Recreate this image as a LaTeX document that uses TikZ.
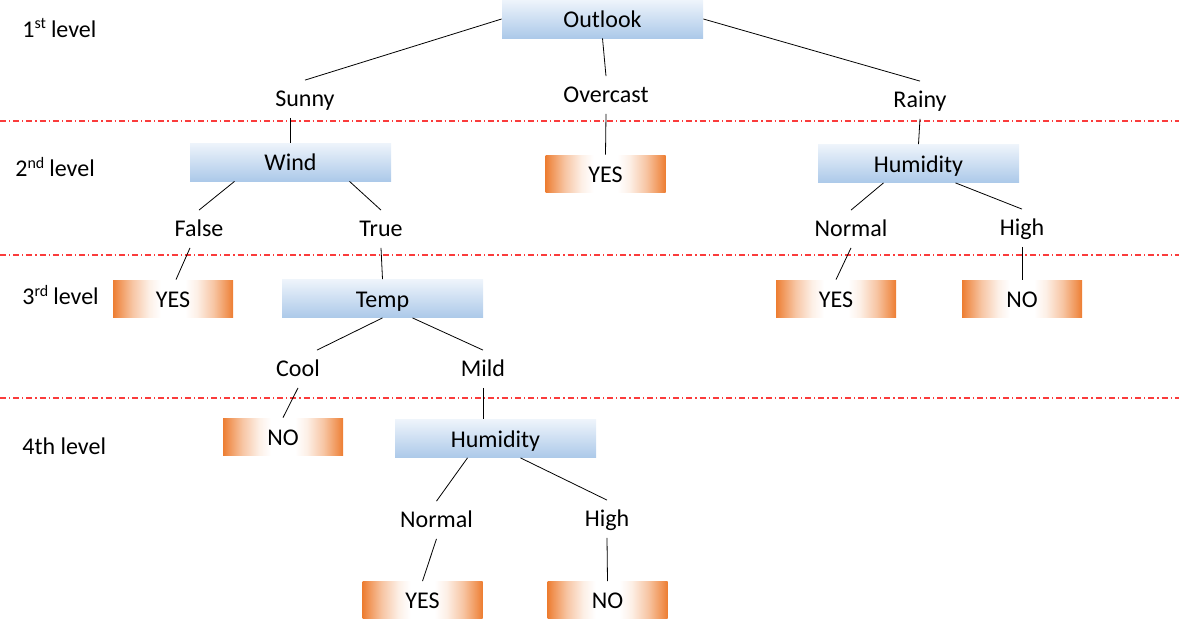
\documentclass[tikz,border=0pt]{standalone}
\usepackage{fontspec}
\setmainfont{Carlito}
\usepackage{tikz}
\usetikzlibrary{calc}

\definecolor{boxorange}{RGB}{237,125,49}
\definecolor{boxbluetop}{RGB}{238,244,251}
\definecolor{boxbluebot}{RGB}{172,201,233}
\definecolor{levelred}{RGB}{250,60,60}

\pgfdeclarehorizontalshading{yesnoshade}{100bp}{color(0bp)=(boxorange); color(25bp)=(boxorange); color(27bp)=(boxorange!85); color(33bp)=(boxorange!45); color(40bp)=(boxorange!12); color(45bp)=(white); color(55bp)=(white); color(60bp)=(boxorange!12); color(67bp)=(boxorange!45); color(73bp)=(boxorange!85); color(75bp)=(boxorange); color(100bp)=(boxorange)}

\tikzset{
  attrbox/.style={minimum width=100.5pt, minimum height=19pt, inner sep=0pt,
    top color=boxbluetop, bottom color=boxbluebot, text height=9.5pt, text depth=1pt},
  leafbox/.style={minimum width=60pt, minimum height=18.5pt, inner sep=0pt,
    shading=yesnoshade, text height=9.5pt, text depth=1pt},
  branch/.style={inner sep=4pt, text height=9pt, text depth=1.5pt},
  levellabel/.style={anchor=west, inner sep=0pt},
  levelline/.style={draw=levelred, line width=0.6pt, dash pattern=on 3pt off 1.5pt on 0.6pt off 1.5pt}
}

\begin{document}
\begin{tikzpicture}[x=0.5pt, y=-0.5pt, font=\fontsize{12}{14}\selectfont]
    \useasboundingbox (0,0) rectangle (1179,621);

    % Ebenen
    \node[levellabel] (lev1) at (22,28) {1\textsuperscript{st}\,level};
    \node[levellabel] (lev2) at (15,167) {2\textsuperscript{nd}\,level};
    \node[levellabel] (lev3) at (22,295) {3\textsuperscript{rd}\,level};
    \node[levellabel] (lev4) at (22,446) {4th level};
    \draw[levelline] (0,121) -- (1179,121);
    \draw[levelline] (0,255) -- (1179,255);
    \draw[levelline] (0,398) -- (1179,398);

    % Wurzel
    \node[attrbox] (outlook) at (602.5,19) {Outlook};
    \node[branch] (sunny) at (305,99) {Sunny};
    \node[branch] (overcast) at (606,95) {Overcast};
    \node[branch] (rainy) at (920,100) {Rainy};
    \draw (outlook.west) -- (sunny.north);
    \draw (outlook.south) -- (overcast.north);
    \draw (outlook.east) -- (rainy.north);

    % 2. Ebene
    \node[attrbox] (wind) at (290.5,162) {Wind};
    \node[leafbox] (yesover) at (605.5,173.5) {YES};
    \node[attrbox] (humright) at (918.5,163.5) {Humidity};
    \draw (wind.north |- sunny.south) -- (wind.north);
    \draw (overcast.south) -- (yesover.north);
    \draw (rainy.south) -- (humright.north);

    \node[branch] (false) at (199,229) {False};
    \node[branch] (true) at (381,229) {True};
    \node[branch] (normright) at (851,229) {Normal};
    \node[branch] (highright) at (1022,228) {High};
    \draw ($(wind.south)+(-56,0)$) -- (false.north);
    \draw ($(wind.south)+(59,0)$) -- (true.north);
    \draw ($(humright.south)+(-35,0)$) -- (normright.north);
    \draw ($(humright.south)+(37,0)$) -- (highright.north);

    % 3. Ebene
    \node[leafbox] (yesfalse) at (173,298.5) {YES};
    \node[attrbox] (temp) at (382.5,298.5) {Temp};
    \node[leafbox] (yesnorm) at (836,298.5) {YES};
    \node[leafbox] (nohigh) at (1022,298.5) {NO};
    \draw ($(false.south)+(-9,0)$) -- ($(yesfalse.north)+(3,0)$);
    \draw (true.south) -- (temp.north);
    \draw (normright.south) -- (yesnorm.north);
    \draw (highright.south) -- (nohigh.north);

    \node[branch] (cool) at (298,369) {Cool};
    \node[branch] (mild) at (483,369) {Mild};
    \draw (temp.south) -- ($(cool.north)+(19,0)$);
    \draw ($(temp.south)+(30,0)$) -- (mild.north);

    % 4. Ebene
    \node[leafbox] (nocool) at (283,436.5) {NO};
    \node[attrbox] (humleft) at (495.5,438.5) {Humidity};
    \draw (cool.south) -- (nocool.north);
    \draw (mild.south) -- (mild.south |- humleft.north);

    \node[branch] (normleft) at (436.5,520) {Normal};
    \node[branch] (highleft) at (607,519) {High};
    \draw ($(humleft.south)+(-28,0)$) -- (normleft.north);
    \draw ($(humleft.south)+(25,0)$) -- (highleft.north);

    \node[leafbox] (yesnormleft) at (422.5,600) {YES};
    \node[leafbox] (nohighleft) at (607.5,600) {NO};
    \draw (normleft.south) -- (yesnormleft.north);
    \draw (highleft.south) -- (nohighleft.north);
\end{tikzpicture}
\end{document}
